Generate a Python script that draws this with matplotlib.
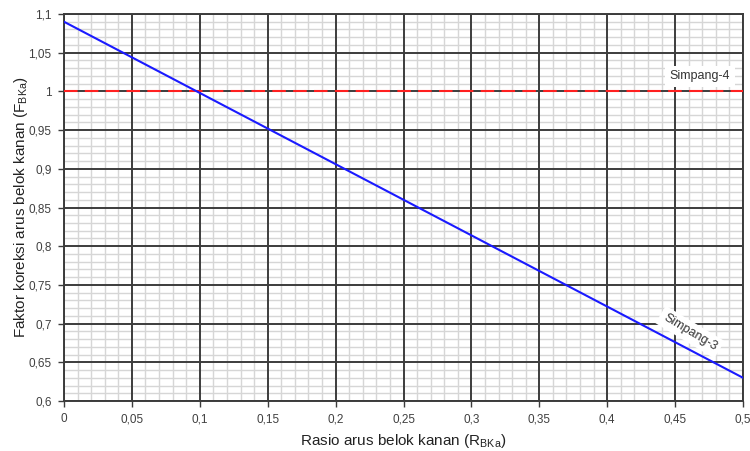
import matplotlib
matplotlib.use('Agg')
import matplotlib.pyplot as plt
from matplotlib.ticker import MultipleLocator, FuncFormatter

plt.rcParams['font.family'] = ['Liberation Sans', 'DejaVu Sans']
plt.rcParams['mathtext.fontset'] = 'custom'
plt.rcParams['mathtext.rm'] = 'Liberation Sans'

# Simpang-3 line endpoints
rasio = [0.0, 0.5]
faktor_3 = [1.09, 0.63]
# Simpang-4 is constant
faktor_4 = [1.0, 1.0]


def comma(v, pos):
    return ('%g' % round(v, 3)).replace('.', ',')


fig = plt.figure(figsize=(7.5, 4.51), dpi=100)
ax = fig.add_axes([64 / 750, 50 / 451, 679 / 750, 387 / 451])

ax.set_xlim(0, 0.5)
ax.set_ylim(0.6, 1.1)
ax.xaxis.set_major_locator(MultipleLocator(0.05))
ax.yaxis.set_major_locator(MultipleLocator(0.05))
ax.xaxis.set_minor_locator(MultipleLocator(0.01))
ax.yaxis.set_minor_locator(MultipleLocator(0.01))
ax.xaxis.set_major_formatter(FuncFormatter(comma))
ax.yaxis.set_major_formatter(FuncFormatter(comma))

# light minor grid, dark major grid drawn on top of it
ax.grid(True, which='minor', color='#d6d6d6', linewidth=1.0)
ax.set_axisbelow(True)
for xv in ax.get_xticks():
    ax.axvline(xv, color='#3c3c3c', linewidth=1.4, zorder=1.5)
for yv in ax.get_yticks():
    ax.axhline(yv, color='#3c3c3c', linewidth=1.4, zorder=1.5)
for s in ax.spines.values():
    s.set_color('#3c3c3c')
    s.set_linewidth(1.4)

ax.tick_params(which='major', direction='out', length=4, width=1.0,
               color='#3c3c3c', labelsize=8.5, labelcolor='#404040', pad=5)
ax.tick_params(which='minor', length=0)

ax.plot(rasio, faktor_4, color='#ff2020', linewidth=1.5, dashes=(6.5, 3.5), zorder=3)
ax.plot(rasio, faktor_3, color='#1a1aff', linewidth=1.5, zorder=4)

ax.text(0.4683, 1.0193, 'Simpang-4', fontsize=9, color='#333333',
        ha='center', va='center', zorder=5,
        bbox=dict(facecolor='white', edgecolor='none', pad=3.5))
ax.text(0.461, 0.689, 'Simpang-3', fontsize=9, color='#333333',
        ha='center', va='center', rotation=-31, rotation_mode='anchor', zorder=5,
        bbox=dict(facecolor='white', edgecolor='none', pad=3))

ax.set_xlabel('Rasio arus belok kanan (R$_\\mathregular{BKa}$)', fontsize=11,
              color='#222222', labelpad=5)
ax.set_ylabel('Faktor koreksi arus belok kanan (F$_\\mathregular{BKa}$)', fontsize=11,
              color='#222222', labelpad=-1)

fig.savefig('out.png', dpi=100)
